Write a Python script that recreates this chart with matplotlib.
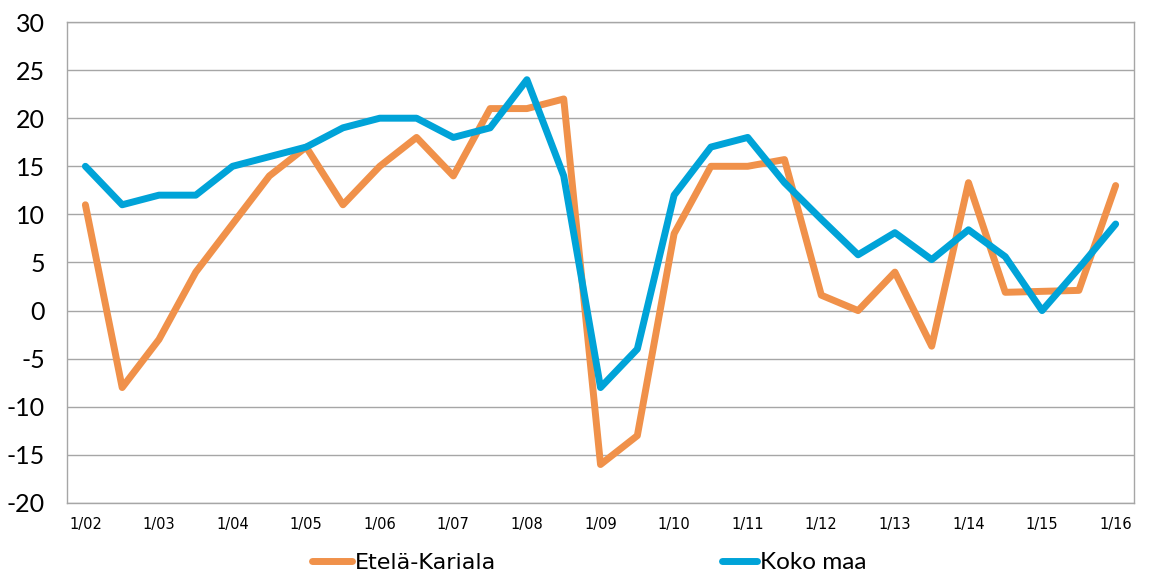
import matplotlib
matplotlib.use("Agg")
import matplotlib.pyplot as plt
import numpy as np

plt.rcParams['axes.unicode_minus'] = False

tick_labels = ["1/02", "1/03", "1/04", "1/05", "1/06", "1/07", "1/08", "1/09",
               "1/10", "1/11", "1/12", "1/13", "1/14", "1/15", "1/16"]
etela_karjala = [11, -8, -3, 4, 9, 14, 17, 11, 15, 18, 14, 21, 21, 22, -16, -13,
                 8, 15, 15, 15.7, 1.6, 0, 4, -3.7, 13.3, 1.9, 2, 2.1, 13]
koko_maa = [15, 11, 12, 12, 15, 16, 17, 19, 20, 20, 18, 19, 24, 14, -8, -4,
            12, 17, 18, 13.3, 9.5, 5.8, 8.1, 5.3, 8.4, 5.6, 0, 4.4, 9]
series_names = ["Etelä-Kariala", "Koko maa"]
y_ticks = list(range(-20, 31, 5))

x = np.arange(len(etela_karjala))

fig = plt.figure(figsize=(11.49, 5.73), dpi=100)
ax = fig.add_axes([0.0583, 0.1222, 0.9287, 0.8394])

orange = "#F0914A"
blue = "#00A3D8"
l1, = ax.plot(x, etela_karjala, color=orange, lw=5, solid_capstyle="round", label=series_names[0], zorder=3)
l2, = ax.plot(x, koko_maa, color=blue, lw=5, solid_capstyle="round", label=series_names[1], zorder=4)

ax.set_xlim(-0.5, 28.5)
ax.set_ylim(-20, 30)
ax.set_yticks(y_ticks)
ax.set_yticklabels([str(v) for v in y_ticks], fontfamily="Lato", fontsize=18)
ax.set_xticks(x[::2])
ax.set_xticklabels(tick_labels, fontfamily="DejaVu Sans", fontsize=10.5)
ax.grid(axis="y", color="#A6A6A6", lw=1)
ax.set_axisbelow(True)
for s in ax.spines.values():
    s.set_color("#A6A6A6")
    s.set_linewidth(1)
ax.tick_params(axis="both", length=0)
ax.tick_params(axis="y", pad=16)
ax.tick_params(axis="x", pad=10)

leg1 = fig.legend(handles=[l1], loc="center left", bbox_to_anchor=(312/1149, 0.0175),
                  frameon=False, prop={"family": "DejaVu Sans", "size": 16},
                  handlelength=1.8, handletextpad=0.14,
                  borderpad=0, borderaxespad=0)
leg2 = fig.legend(handles=[l2], loc="center left", bbox_to_anchor=(722/1149, 0.0175),
                  frameon=False, prop={"family": "Lato", "size": 17.5}, handlelength=1.45,
                  handletextpad=0.12, borderpad=0, borderaxespad=0)

fig.savefig("out.png", dpi=100)
